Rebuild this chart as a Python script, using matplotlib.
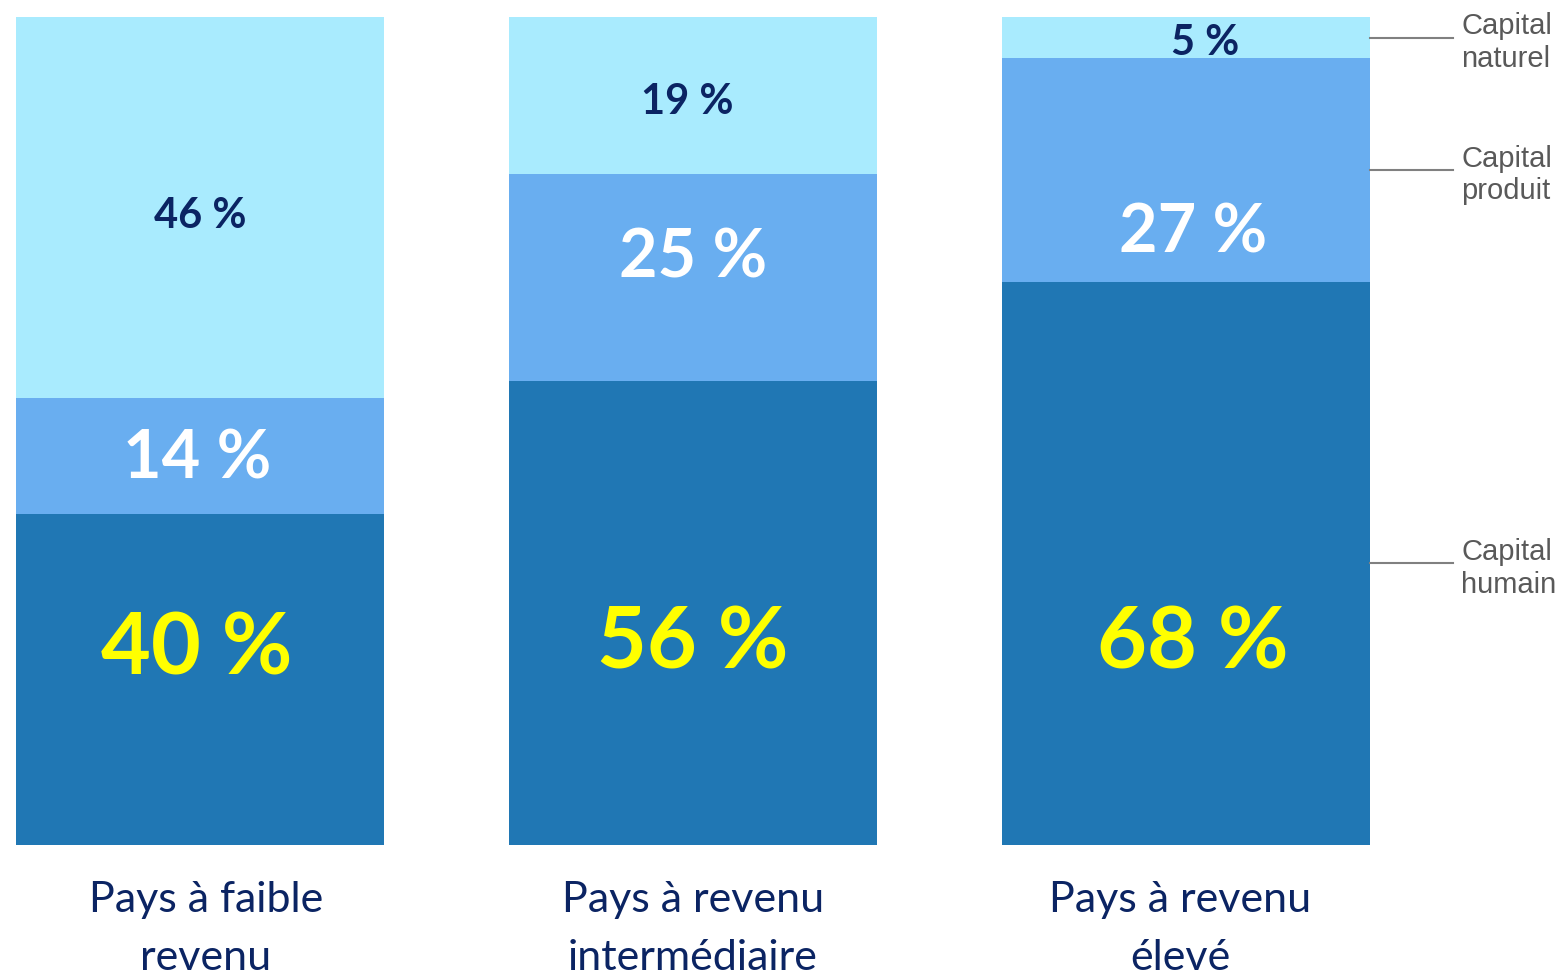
import matplotlib.pyplot as plt

# data (share of total wealth, %)
categories = ['Pays à faible\nrevenu', 'Pays à revenu\nintermédiaire', 'Pays à revenu\nélevé']
capital_humain = [40, 56, 68]
capital_produit = [14, 25, 27]
capital_naturel = [46, 19, 5]
legend_labels = ['Capital\nhumain', 'Capital\nproduit', 'Capital\nnaturel']

# where each value label sits (data units), one list per layer
label_y_humain = [23.5, 24.3, 24.3]
label_y_produit = [46.5, 70.8, 73.8]
label_y_naturel = [75.9, 89.7, 96.8]
label_dx_naturel = [0.0, -0.012, 0.04]
label_dx = [-0.006, 0.0, 0.014]

c_dark, c_mid, c_light = '#2077B4', '#69AEF0', '#A9EBFE'
navy = '#0B2463'

fig = plt.figure(figsize=(15.62, 9.73), dpi=100)
ax = fig.add_axes([0, 0.1316, 1, 0.851])
ax.set_xlim(-0.4057, 2.763)
ax.set_ylim(0, 100)
ax.axis('off')

x = range(len(categories))
w = 0.746
bottom2 = [a + b for a, b in zip(capital_humain, capital_produit)]
ax.bar(x, capital_humain, w, color=c_dark, linewidth=0)
ax.bar(x, capital_produit, w, bottom=capital_humain, color=c_mid, linewidth=0)
ax.bar(x, capital_naturel, w, bottom=bottom2, color=c_light, linewidth=0)

bold = dict(family='Lato', fontweight='bold', ha='center', va='center')
for i in x:
    ax.text(i + label_dx[i], label_y_humain[i], f'{capital_humain[i]} %', color='#FFFF00', fontsize=62, **bold)
    ax.text(i + label_dx[i], label_y_produit[i], f'{capital_produit[i]} %', color='white', fontsize=48, **bold)
    ax.text(i + label_dx_naturel[i], label_y_naturel[i], f'{capital_naturel[i]} %', color=navy, fontsize=30, **bold)
    ax.text(i + 0.012 * (1 - i), -4.4, categories[i], color=navy, fontsize=31, family='Lato',
            ha='center', va='top', linespacing=1.62, clip_on=False)

# side annotations pointing at the middle of each segment of the last bar
last = len(categories) - 1
mids = [capital_humain[last] / 2,
        capital_humain[last] + capital_produit[last] / 2,
        bottom2[last] + capital_naturel[last] / 2]
x0 = last + w / 2
for m, lab in zip(mids, legend_labels):
    ax.plot([x0, x0 + 0.168], [m, m], color='#808080', lw=1.5, clip_on=False)
    ax.text(x0 + 0.186, m - 0.6, lab, color='#595959', fontsize=21, family='Liberation Sans',
            ha='left', va='center', linespacing=1.2)

fig.savefig('out.png', dpi=100)
